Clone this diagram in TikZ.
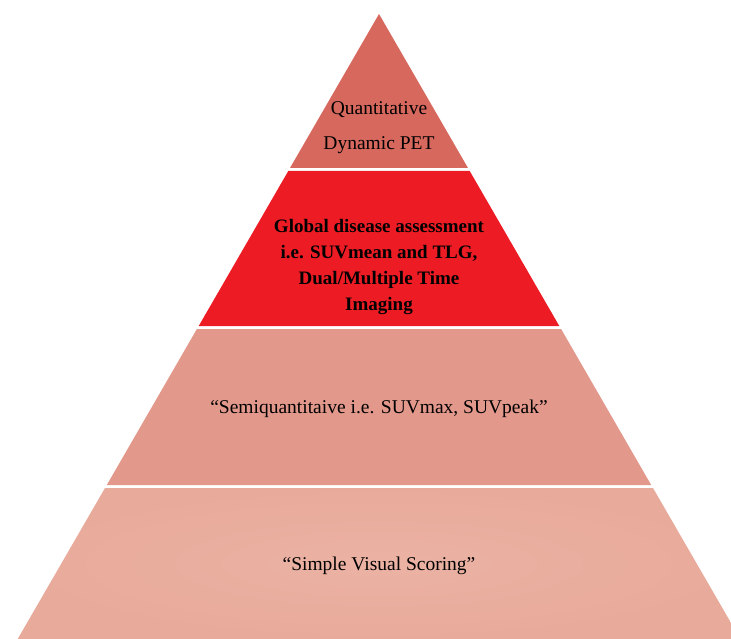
\documentclass[tikz,border=0pt]{standalone}
\usepackage{fontspec}
\setmainfont{Liberation Serif}
\usepackage{tikz}
\usetikzlibrary{positioning}
\definecolor{tierA}{RGB}{214,104,94}
\definecolor{tierB}{RGB}{237,28,36}
\definecolor{tierC}{RGB}{226,152,139}
\definecolor{tierD}{RGB}{232,170,155}
\definecolor{tierDin}{RGB}{235,178,163}

\begin{document}
\begin{tikzpicture}[
    x=1pt, y=-1pt,
    tier/.style={fill=#1, draw=none},
    lbl/.style={align=center, text=black, font=\fontsize{19.5}{35}\selectfont},
    lblbold/.style={align=center, text=black, font=\fontsize{19}{26}\selectfont\bfseries}
  ]
  \useasboundingbox (0,0) rectangle (731,639);
  \clip (0,0) rectangle (731,639);

  % Tiers (top to bottom)
  \fill[tier=tierA] (379,14) -- (468,168) -- (290,168) -- cycle;
  \fill[tier=tierB] (288.3,171) -- (469.7,171) -- (559.3,326) -- (198.7,326) -- cycle;
  \fill[tier=tierC] (196.9,329) -- (561.1,329) -- (651.2,485) -- (106.8,485) -- cycle;
  \shade[inner color=tierDin, outer color=tierD]
    (105,488) -- (653,488) -- (740.3,639) -- (17.7,639) -- cycle;

  % Labels
  \node[lbl] (quant) at (379,128) {Quantitative\\Dynamic PET};
  \node[lblbold] (global) at (379,267.5) {Global disease assessment\\i.e. SUVmean and TLG,\\Dual/Multiple Time\\Imaging};
  \node[lbl] (semi) at (379,409) {“Semiquantitaive i.e. SUVmax, SUVpeak”};
  \node[lbl] (simple) at (379,566) {“Simple Visual Scoring”};
\end{tikzpicture}
\end{document}
